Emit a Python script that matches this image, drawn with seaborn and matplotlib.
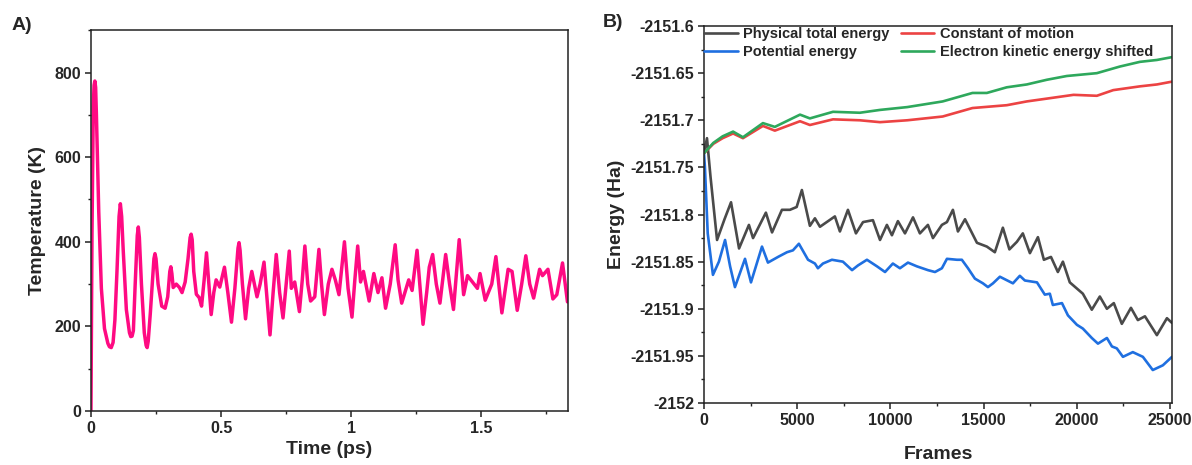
import matplotlib
matplotlib.use('Agg')
import matplotlib.pyplot as plt
from matplotlib.ticker import MultipleLocator, FuncFormatter
import seaborn as sns

sns.set_style('ticks')
plt.rcParams['font.family'] = ['Liberation Sans', 'DejaVu Sans']
plt.rcParams['font.weight'] = 'bold'

# Panel A: temperature trace
time_ps = [0.000, 0.004, 0.009, 0.012, 0.015, 0.018, 0.021, 0.030, 0.040, 0.052, 0.065, 0.071,
           0.078, 0.085, 0.092, 0.100, 0.108, 0.113, 0.118, 0.124, 0.136, 0.148, 0.153, 0.158,
           0.163, 0.170, 0.178, 0.182, 0.186, 0.194, 0.205, 0.212, 0.216, 0.220, 0.228, 0.242,
           0.246, 0.250, 0.258, 0.272, 0.285, 0.295, 0.303, 0.307, 0.311, 0.316, 0.328, 0.340,
           0.350, 0.362, 0.373, 0.381, 0.385, 0.389, 0.395, 0.405, 0.416, 0.425, 0.435, 0.444,
           0.453, 0.462, 0.472, 0.481, 0.495, 0.513, 0.526, 0.540, 0.553, 0.565, 0.569, 0.573,
           0.582, 0.594, 0.606, 0.618, 0.628, 0.638, 0.650, 0.665, 0.676, 0.688, 0.700, 0.712,
           0.725, 0.738, 0.750, 0.762, 0.770, 0.783, 0.801, 0.812, 0.822, 0.833, 0.844, 0.860,
           0.876, 0.886, 0.897, 0.912, 0.926, 0.939, 0.953, 0.964, 0.974, 0.988, 1.003, 1.014,
           1.025, 1.036, 1.047, 1.069, 1.087, 1.103, 1.118, 1.132, 1.150, 1.169, 1.180, 1.194,
           1.221, 1.234, 1.253, 1.265, 1.276, 1.290, 1.300, 1.313, 1.327, 1.341, 1.363, 1.378,
           1.393, 1.405, 1.415, 1.432, 1.447, 1.472, 1.485, 1.495, 1.515, 1.540, 1.556, 1.567,
           1.579, 1.603, 1.618, 1.638, 1.655, 1.671, 1.686, 1.701, 1.724, 1.735, 1.756, 1.775,
           1.790, 1.812, 1.831]
temp_k = [0, 420, 720, 770, 780, 765, 700, 470, 290, 195, 160, 152,
          150, 162, 215, 330, 460, 490, 460, 380, 240, 185, 176, 177,
          190, 300, 415, 435, 410, 300, 185, 155, 150, 165, 230, 360,
          372, 360, 300, 248, 243, 270, 330, 341, 325, 292, 300, 292,
          280, 305, 360, 410, 418, 405, 330, 276, 268, 248, 310, 374,
          300, 228, 280, 310, 293, 340, 280, 210, 290, 385, 398, 380,
          300, 218, 290, 330, 300, 270, 300, 352, 270, 180, 280, 370,
          280, 220, 300, 378, 290, 305, 235, 310, 390, 300, 260, 270,
          382, 300, 228, 300, 335, 310, 275, 340, 400, 290, 222, 310,
          390, 305, 330, 260, 325, 280, 315, 243, 300, 393, 310, 255,
          310, 285, 380, 290, 205, 280, 340, 370, 300, 255, 370, 300,
          240, 330, 405, 275, 320, 300, 290, 325, 262, 300, 365, 300,
          232, 335, 330, 238, 300, 367, 300, 267, 335, 320, 335, 265,
          275, 350, 258]

# Panel B: energies
frames_total = [0, 160, 350, 700, 1100, 1450, 1880, 2410, 2630, 3320, 3650, 4180, 4610, 4970,
                5250, 5680, 5950, 6220, 7020, 7290, 7720, 8150, 8530, 9060, 9440, 9810, 10080,
                10400, 10780, 11210, 11580, 12010, 12280, 12760, 13030, 13350, 13620, 14000,
                14640, 15170, 15600, 16030, 16380, 16780, 17100, 17480, 17910, 18230, 18610,
                18980, 19250, 19620, 20320, 20800, 21230, 21610, 21980, 22410, 22900, 23270,
                23650, 24290, 24830, 25100]
e_total = [-2151.735, -2151.719, -2151.760, -2151.827, -2151.805, -2151.787, -2151.836,
           -2151.811, -2151.825, -2151.798, -2151.819, -2151.795, -2151.795, -2151.792,
           -2151.774, -2151.812, -2151.804, -2151.813, -2151.802, -2151.818, -2151.795,
           -2151.820, -2151.808, -2151.806, -2151.827, -2151.811, -2151.822, -2151.807,
           -2151.820, -2151.803, -2151.820, -2151.811, -2151.825, -2151.811, -2151.808,
           -2151.795, -2151.818, -2151.805, -2151.830, -2151.834, -2151.840, -2151.814,
           -2151.837, -2151.829, -2151.820, -2151.841, -2151.824, -2151.848, -2151.845,
           -2151.861, -2151.850, -2151.872, -2151.884, -2151.901, -2151.887, -2151.900,
           -2151.894, -2151.916, -2151.899, -2151.912, -2151.908, -2151.928, -2151.910,
           -2151.915]

frames_pot = [0, 50, 200, 480, 800, 1130, 1400, 1660, 2200, 2520, 3110, 3430, 3970, 4450,
              4770, 5090, 5580, 5950, 6110, 6380, 6860, 7450, 7940, 8260, 8740, 9280, 9710,
              10130, 10510, 10940, 11420, 12010, 12390, 12760, 13030, 13570, 13830, 14160,
              14530, 14960, 15230, 15500, 15870, 16570, 16940, 17210, 17860, 18280, 18550,
              18710, 19200, 19520, 20000, 20320, 20800, 21130, 21610, 21880, 22140, 22470,
              23000, 23540, 24070, 24610, 25100]
e_pot = [-2151.735, -2151.750, -2151.820, -2151.864, -2151.850, -2151.827, -2151.855,
         -2151.877, -2151.847, -2151.872, -2151.834, -2151.851, -2151.845, -2151.840,
         -2151.838, -2151.831, -2151.848, -2151.852, -2151.857, -2151.852, -2151.848,
         -2151.850, -2151.859, -2151.854, -2151.848, -2151.855, -2151.861, -2151.852,
         -2151.857, -2151.851, -2151.855, -2151.859, -2151.861, -2151.857, -2151.847,
         -2151.848, -2151.848, -2151.857, -2151.868, -2151.873, -2151.877, -2151.873,
         -2151.866, -2151.873, -2151.865, -2151.870, -2151.872, -2151.885, -2151.884,
         -2151.896, -2151.894, -2151.907, -2151.917, -2151.921, -2151.931, -2151.937,
         -2151.931, -2151.940, -2151.942, -2151.951, -2151.946, -2151.951, -2151.965,
         -2151.960, -2151.951]

frames_const = [0, 500, 1000, 1560, 2090, 3160, 3800, 5150, 5680, 6920, 8360, 9440, 10900,
                12800, 14400, 16240, 17310, 18390, 19820, 21070, 21950, 23380, 24290, 25100]
e_const = [-2151.735, -2151.725, -2151.719, -2151.714, -2151.719, -2151.706, -2151.711,
           -2151.701, -2151.705, -2151.699, -2151.700, -2151.702, -2151.700, -2151.696,
           -2151.687, -2151.684, -2151.680, -2151.677, -2151.673, -2151.674, -2151.668,
           -2151.664, -2151.662, -2151.659]

frames_ekin = [0, 500, 1000, 1560, 2090, 3160, 3800, 5150, 5680, 6920, 8360, 9440, 10900,
               12800, 14400, 15170, 16240, 17310, 18390, 19460, 21070, 22300, 23380, 24290,
               25100]
e_ekin = [-2151.735, -2151.724, -2151.717, -2151.712, -2151.718, -2151.703, -2151.707,
          -2151.694, -2151.698, -2151.691, -2151.692, -2151.689, -2151.686, -2151.680,
          -2151.671, -2151.671, -2151.665, -2151.662, -2151.657, -2151.653, -2151.650,
          -2151.643, -2151.638, -2151.636, -2151.633]

fig = plt.figure(figsize=(11.92, 4.65), dpi=100)
ax1 = fig.add_axes([0.0763, 0.116, 0.4002, 0.819])
ax2 = fig.add_axes([0.5906, 0.1333, 0.3926, 0.8107])

tick_fs = 11.5
label_fs = 14

# ---- Panel A
sns.lineplot(x=time_ps, y=temp_k, ax=ax1, color='#ff0a82', linewidth=2.5)
ax1.lines[-1].set_solid_joinstyle('round')
ax1.set_xlim(0, 1.833)
ax1.set_ylim(0, 900)
ax1.xaxis.set_major_locator(MultipleLocator(0.5))
ax1.xaxis.set_minor_locator(MultipleLocator(0.25))
ax1.yaxis.set_major_locator(MultipleLocator(200))
ax1.yaxis.set_minor_locator(MultipleLocator(100))
ax1.xaxis.set_major_formatter(FuncFormatter(lambda v, p: '{:g}'.format(v)))
ax1.set_xlabel('Time (ps)', fontsize=label_fs, fontweight='bold', labelpad=4)
ax1.set_ylabel('Temperature (K)', fontsize=label_fs, fontweight='bold', labelpad=6)

# ---- Panel B
sns.lineplot(x=frames_total, y=e_total, ax=ax2, color='#4a4a4a', linewidth=1.9,
             label='Physical total energy')
sns.lineplot(x=frames_pot, y=e_pot, ax=ax2, color='#1f6fe0', linewidth=1.9,
             label='Potential energy')
sns.lineplot(x=frames_const, y=e_const, ax=ax2, color='#ec4343', linewidth=1.9,
             label='Constant of motion')
sns.lineplot(x=frames_ekin, y=e_ekin, ax=ax2, color='#2ea85c', linewidth=1.9,
             label='Electron kinetic energy shifted')
for ln in ax2.lines:
    ln.set_solid_joinstyle('round')
ax2.set_xlim(0, 25100)
ax2.set_ylim(-2152, -2151.6)
ax2.xaxis.set_major_locator(MultipleLocator(5000))
ax2.xaxis.set_minor_locator(MultipleLocator(2500))
ax2.yaxis.set_major_locator(MultipleLocator(0.05))
ax2.yaxis.set_minor_locator(MultipleLocator(0.025))
ax2.yaxis.set_major_formatter(FuncFormatter(lambda v, p: '{:g}'.format(round(v, 3))))
ax2.set_xlabel('Frames', fontsize=label_fs, fontweight='bold', labelpad=13)
ax2.set_ylabel('Energy (Ha)', fontsize=label_fs, fontweight='bold', labelpad=4)
ax2.legend(loc='upper left', bbox_to_anchor=(-0.006, 1.005), ncol=2, frameon=False,
           handlelength=2.3, handletextpad=0.4, columnspacing=0.75,
           labelspacing=0.3, borderpad=0.2, borderaxespad=0,
           prop={'weight': 'bold', 'size': 10.5})

for ax in (ax1, ax2):
    for s in ax.spines.values():
        s.set_linewidth(1.1)
        s.set_color('#222222')
    ax.tick_params(which='major', direction='out', length=4, width=1.1,
                   labelsize=tick_fs, color='#222222', pad=3)
    ax.tick_params(which='minor', direction='out', length=2.5, width=1.0, color='#222222')
    for lbl in ax.get_xticklabels() + ax.get_yticklabels():
        lbl.set_fontweight('bold')

fig.text(0.010, 0.945, 'A)', fontsize=14, fontweight='bold', ha='left', va='center')
fig.text(0.506, 0.952, 'B)', fontsize=14, fontweight='bold', ha='left', va='center')

fig.savefig('out.png', dpi=100)
